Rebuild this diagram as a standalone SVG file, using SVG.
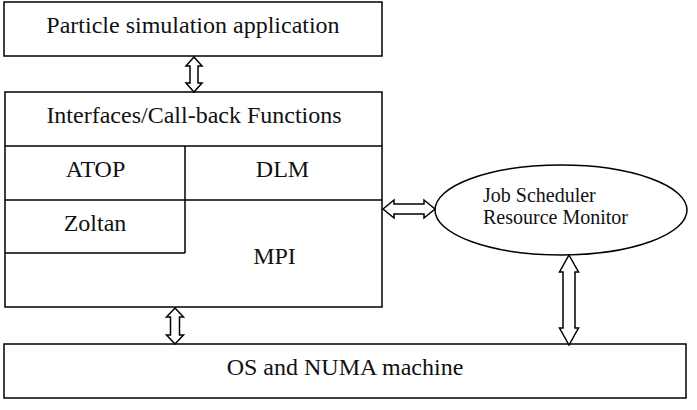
<svg xmlns="http://www.w3.org/2000/svg" width="697" height="410" viewBox="0 0 697 410">
<style>
.box{fill:#fff;stroke:#000;stroke-width:1.5}
.ln{fill:none;stroke:#000;stroke-width:1.5}
.arr{fill:#fff;stroke:#000;stroke-width:1.5;stroke-linejoin:miter}
.t{font-family:'Liberation Serif','Times New Roman',Times,'DejaVu Serif',serif;font-size:24px;fill:#111;text-anchor:middle}
.s{font-family:'Liberation Serif','Times New Roman',Times,'DejaVu Serif',serif;font-size:20px;fill:#111}
</style>
<rect width="697" height="410" fill="#fff"/>
<g id="app">
<rect class="box" x="4" y="2" width="378" height="54"/>
<text class="t" x="193" y="33">Particle simulation application</text>
</g>
<g id="middleware">
<rect class="box" x="5" y="92" width="377" height="215"/>
<line class="ln" x1="5" y1="146" x2="382" y2="146"/>
<text class="t" x="194" y="123">Interfaces/Call-back Functions</text>
</g>
<g id="atop">
<line class="ln" x1="185" y1="146" x2="185" y2="253"/>
<line class="ln" x1="5" y1="200" x2="382" y2="200"/>
<text class="t" x="95.5" y="177">ATOP</text>
</g>
<g id="dlm">
<text class="t" x="282.5" y="177">DLM</text>
</g>
<g id="zoltan">
<line class="ln" x1="5" y1="253" x2="185" y2="253"/>
<text class="t" x="95" y="231">Zoltan</text>
</g>
<g id="mpi">
<text class="t" x="274.5" y="264">MPI</text>
</g>
<g id="os">
<rect class="box" x="4" y="344" width="682" height="54"/>
<text class="t" x="345" y="375">OS and NUMA machine</text>
</g>
<g id="scheduler">
<ellipse class="box" cx="561" cy="210" rx="126" ry="45"/>
<text class="s" x="483" y="202">Job Scheduler</text>
<text class="s" x="483" y="223.5">Resource Monitor</text>
</g>
<g id="connectors">
<polygon class="arr" points="194,57 202,66 198,66 198,83 202,83 194,92 186,83 190,83 190,66 186,66"/>
<polygon class="arr" points="175,308 183.5,317 179.5,317 179.5,335 183.5,335 175,344 166.5,335 170.5,335 170.5,317 166.5,317"/>
<polygon class="arr" points="383,209 394,200 394,204 424,204 424,200 435,209 424,218 424,214 394,214 394,218"/>
<polygon class="arr" points="569,255 578.5,272 575,272 575,328 578.5,328 569,345 559.5,328 563,328 563,272 559.5,272"/>
</g>
</svg>
